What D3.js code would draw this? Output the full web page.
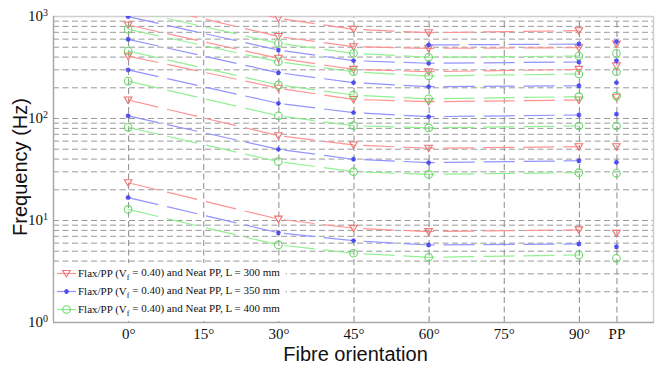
<!DOCTYPE html>
<html>
<head>
<meta charset="utf-8">
<script src="https://cdn.jsdelivr.net/npm/d3@7"></script>
<style>
  body { margin: 0; background: #fff; }
  svg { display: block; }
</style>
</head>
<body>
<svg id="chart" width="658" height="365"></svg>
<script>
// Fibre orientations (deg) at which the beams were evaluated
const orientations = [0, 30, 45, 60, 90];
// Neat PP is placed as an extra column after 90°
const ppPosition = 97.5;
const xTickValues = [0, 15, 30, 45, 60, 75, 90, 97.5];
const xTickLabels = ["0°", "15°", "30°", "45°", "60°", "75°", "90°", "PP"];
const yTickExponents = [0, 1, 2, 3];

// Natural frequencies (Hz): one row per mode, columns follow `orientations`.
// null = mode not reported at that orientation.
const freqL300 = [
  [23.2, 10.2, 8.3, 7.7, 8.0],
  [150, 67, 54.4, 50.5, 52.3],
  [405, 196, 152, 144.5, 150],
  [816, 385, 300, 284, 300],
  [1400, 630, 500, 482, 489],
  [2100, 950, 741, 686, 718]
];
const ppL300 = [7.4, 52.3, 160, 324, 531];

const freqL350 = [
  [16.6, 7.5, 6.27, 5.69, 5.82],
  [105, 49.3, 39.4, 36.5, 38.1],
  [296, 139, 113, 103, 107],
  [591, 278, 222, 203, 207],
  [985, 464, 365, 344, 354],
  [null, null, null, 520, 531]
];
const ppL350 = [5.47, 36.8, 109, 222, 365, 560];

const freqL400 = [
  [12.7, 5.7, 4.72, 4.31, 4.54],
  [81, 37.3, 29.8, 28.0, 29.1],
  [230, 105, 84, 80, 83.5],
  [454, 211, 168, 154, 162],
  [741, 356, 284, 258, 270],
  [1150, 540, 431, 394, 405]
];
const ppL400 = [4.21, 28.7, 83.5, 164, 284, 431];

const legendLabels = ["L = 300 mm", "L = 350 mm", "L = 400 mm"];

const series = [
  { modes: freqL300, pp: ppL300, label: legendLabels[0], line: "#ff9393", mark: "#f27070", marker: "triangle" },
  { modes: freqL350, pp: ppL350, label: legendLabels[1], line: "#9393ff", mark: "#4d4df0", marker: "star" },
  { modes: freqL400, pp: ppL400, label: legendLabels[2], line: "#93f093", mark: "#66d966", marker: "circle" }
];

const svg = d3.select("#chart");
const plot = { left: 53, right: 654, top: 16, bottom: 322 };

const x = d3.scaleLinear().domain([-15, 105]).range([plot.left, plot.right]);
const y = d3.scaleLog().domain([1, 1000]).range([plot.bottom, plot.top]);

const serif = "'Liberation Serif', 'Times New Roman', serif";
const sans = "'Liberation Sans', Arial, Helvetica, sans-serif";

// clip path for the data area
svg.append("defs").append("clipPath").attr("id", "plotClip")
  .append("rect")
  .attr("x", plot.left).attr("y", plot.top)
  .attr("width", plot.right - plot.left).attr("height", plot.bottom - plot.top);

// horizontal grid at every log tick
const yGridValues = [];
for (let e = 0; e < 3; e++) for (let m = 1; m <= 9; m++) yGridValues.push(m * Math.pow(10, e));

const grid = svg.append("g").attr("class", "grid");
grid.append("g")
  .attr("transform", `translate(${plot.left},0)`)
  .call(d3.axisLeft(y).tickValues(yGridValues.filter(v => v > 1))
    .tickSize(-(plot.right - plot.left)).tickFormat(""))
  .call(g => g.select(".domain").remove())
  .call(g => g.selectAll("line").attr("stroke", "#9a9a9a").attr("stroke-width", 1)
    .attr("stroke-dasharray", "6,3.5"));

// vertical grid at each orientation tick
grid.append("g")
  .attr("transform", `translate(0,${plot.bottom})`)
  .call(d3.axisBottom(x).tickValues(xTickValues)
    .tickSize(-(plot.bottom - plot.top)).tickFormat(""))
  .call(g => g.select(".domain").remove())
  .call(g => g.selectAll("line").attr("stroke", "#8a8a8a").attr("stroke-width", 1)
    .attr("stroke-dasharray", "6,3.5"));

// frame
svg.append("line").attr("x1", plot.left).attr("x2", plot.right).attr("y1", plot.top + 0.5).attr("y2", plot.top + 0.5)
  .attr("stroke", "#cfcfcf").attr("stroke-width", 1.5);
svg.append("line").attr("x1", plot.right - 0.5).attr("x2", plot.right - 0.5).attr("y1", plot.top).attr("y2", plot.bottom)
  .attr("stroke", "#cfcfcf").attr("stroke-width", 1.5);

// x axis
const xAxis = svg.append("g")
  .attr("transform", `translate(0,${plot.bottom})`)
  .call(d3.axisBottom(x).tickValues(xTickValues)
    .tickFormat((d, i) => xTickLabels[i]).tickSize(0).tickPadding(6))
  .call(g => g.select(".domain").attr("stroke", "#a8a8a8").attr("stroke-width", 1.5)
    .attr("d", `M${plot.left},0.5H${plot.right}`));
xAxis.selectAll("text").attr("font-family", serif).attr("font-size", 15).attr("fill", "#111");

// y axis: powers of ten with superscript exponents
const yAxis = svg.append("g")
  .attr("transform", `translate(${plot.left},0)`)
  .call(d3.axisLeft(y).tickValues(yTickExponents.map(e => Math.pow(10, e)))
    .tickFormat("").tickSize(0))
  .call(g => g.select(".domain").attr("stroke", "#a8a8a8").attr("stroke-width", 1.5)
    .attr("d", `M0.5,${plot.bottom}V${plot.top}`));
yAxis.selectAll(".tick").each(function (d, i) {
  const t = d3.select(this).append("text")
    .attr("x", -5).attr("dy", "0.32em")
    .attr("text-anchor", "end")
    .attr("font-family", serif).attr("font-size", 15).attr("fill", "#111");
  t.append("tspan").text("10");
  t.append("tspan").attr("dy", "-0.55em").attr("font-size", 10).text(String(yTickExponents[i]));
});

// axis titles
svg.append("text")
  .attr("x", (plot.left + plot.right) / 2 + 2).attr("y", 361)
  .attr("text-anchor", "middle")
  .attr("font-family", sans).attr("font-size", 20).attr("fill", "#111")
  .text("Fibre orientation");
svg.append("text")
  .attr("transform", `translate(27,${(plot.top + plot.bottom) / 2 - 2}) rotate(-90)`)
  .attr("text-anchor", "middle")
  .attr("font-family", sans).attr("font-size", 20).attr("fill", "#111")
  .text("Frequency (Hz)");

// marker drawing
function drawMarker(g, kind, color, cx, cy) {
  if (kind === "triangle") {
    g.append("path")
      .attr("d", `M${cx - 3.8},${cy - 3}L${cx + 3.8},${cy - 3}L${cx},${cy + 3.5}Z`)
      .attr("fill", "none").attr("stroke", color).attr("stroke-width", 1.1);
  } else if (kind === "circle") {
    g.append("circle").attr("cx", cx).attr("cy", cy).attr("r", 3.8)
      .attr("fill", "none").attr("stroke", color).attr("stroke-width", 1.1);
  } else {
    const r = 2.5;
    const p = d3.path();
    p.moveTo(cx - r, cy); p.lineTo(cx + r, cy);
    p.moveTo(cx, cy - r); p.lineTo(cx, cy + r);
    p.moveTo(cx - r * 0.7, cy - r * 0.7); p.lineTo(cx + r * 0.7, cy + r * 0.7);
    p.moveTo(cx - r * 0.7, cy + r * 0.7); p.lineTo(cx + r * 0.7, cy - r * 0.7);
    g.append("path").attr("d", p.toString()).attr("stroke", color).attr("stroke-width", 1.2);
    g.append("circle").attr("cx", cx).attr("cy", cy).attr("r", 1.3).attr("fill", color);
  }
}

const line = d3.line()
  .defined(d => d.f != null)
  .x(d => x(d.a))
  .y(d => y(d.f));

const dataLayer = svg.append("g").attr("clip-path", "url(#plotClip)");

series.forEach(s => {
  const g = dataLayer.append("g");
  s.modes.forEach(row => {
    const pts = orientations.map((a, i) => ({ a, f: row[i] }));
    g.append("path")
      .datum(pts)
      .attr("d", line)
      .attr("fill", "none")
      .attr("stroke", s.line)
      .attr("stroke-width", 1.2)
      .attr("stroke-dasharray", "31,9");
    pts.filter(p => p.f != null && p.f <= 1000).forEach(p => drawMarker(g, s.marker, s.mark, x(p.a), y(p.f)));
  });
  s.pp.forEach(f => drawMarker(g, s.marker, s.mark, x(ppPosition), y(f)));
});

// legend
const legend = svg.append("g");
legend.append("rect")
  .attr("x", plot.left + 1.5).attr("y", 263)
  .attr("width", 231).attr("height", plot.bottom - 263 - 1)
  .attr("fill", "#fff");
const legendY = [273.5, 291.5, 309.5];
series.forEach((s, i) => {
  const ly = legendY[i];
  legend.append("line")
    .attr("x1", 57).attr("x2", 76).attr("y1", ly).attr("y2", ly)
    .attr("stroke", s.line).attr("stroke-width", 1.2);
  drawMarker(legend, s.marker, s.mark, 66.5, ly);
  const t = legend.append("text")
    .attr("x", 78).attr("y", ly).attr("dy", "0.32em")
    .attr("font-family", serif).attr("font-size", 11).attr("fill", "#111");
  t.append("tspan").text("Flax/PP (V");
  t.append("tspan").attr("dy", "0.35em").attr("font-size", 8).text("f");
  t.append("tspan").attr("dy", "-0.35em").text(` = 0.40) and Neat PP, ${s.label}`);
});
</script>
</body>
</html>
